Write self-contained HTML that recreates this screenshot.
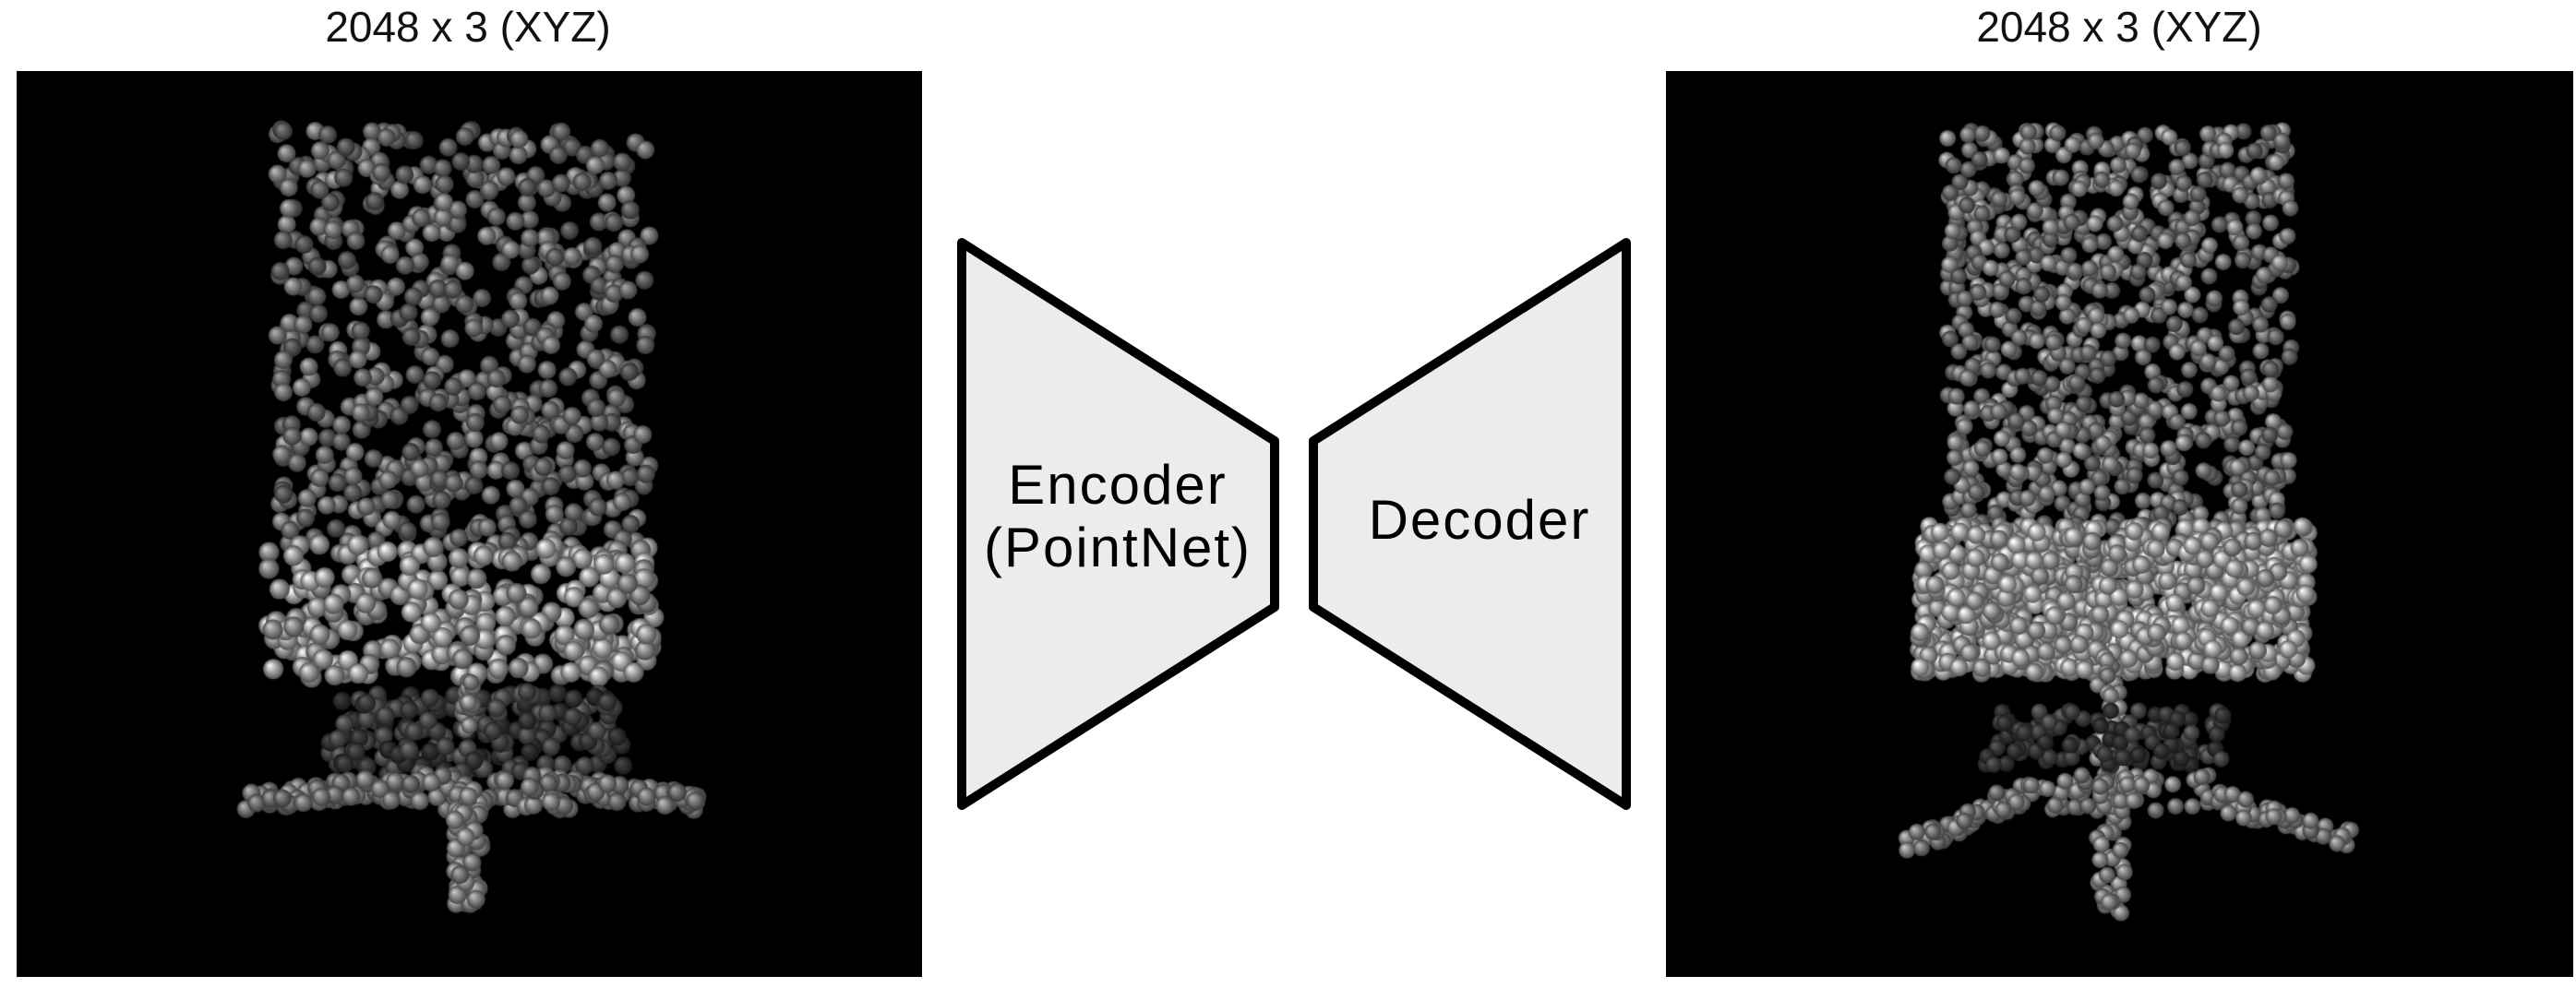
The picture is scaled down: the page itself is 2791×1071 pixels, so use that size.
<!DOCTYPE html>
<html><head><meta charset="utf-8"><style>
html,body{margin:0;padding:0;background:#fff;}
#w{position:relative;width:2791px;height:1071px;overflow:hidden;background:#fff;font-family:"Liberation Sans",sans-serif;}
.t{position:absolute;top:2px;font-size:46px;color:#111;width:700px;text-align:center;}
canvas{position:absolute;top:77px;}
</style></head><body><div id="w">
<div class="t" style="left:157px">2048 x 3 (XYZ)</div>
<div class="t" style="left:1946px">2048 x 3 (XYZ)</div>
<canvas id="c1" width="981" height="982" style="left:18px"></canvas>
<canvas id="c2" width="983" height="982" style="left:1805px"></canvas>
<svg width="2791" height="1071" style="position:absolute;left:0;top:0">
<polygon points="1042,263 1381,478 1381,658 1042,873" fill="#ececee" stroke="#000" stroke-width="10" stroke-linejoin="round"/>
<polygon points="1762,263 1423,478 1423,658 1762,873" fill="#ececee" stroke="#000" stroke-width="10" stroke-linejoin="round"/>
<text x="1211" y="546" font-size="60" letter-spacing="2" text-anchor="middle" font-family="Liberation Sans, sans-serif">Encoder</text>
<text x="1211" y="614" font-size="60" letter-spacing="2" text-anchor="middle" font-family="Liberation Sans, sans-serif">(PointNet)</text>
<text x="1603" y="584" font-size="60" letter-spacing="2" text-anchor="middle" font-family="Liberation Sans, sans-serif">Decoder</text>
</svg>
</div>
<script>
var s=12345;function r(){s=(s*1103515245+12345)%2147483648;return s/2147483648;}
function dot(c,x,y,R,b){var g=c.createRadialGradient(x-R*.35,y-R*.35,R*.1,x,y,R);g.addColorStop(0,'rgb('+b+','+b+','+b+')');var d=Math.round(b*.35);g.addColorStop(1,'rgb('+d+','+d+','+d+')');c.fillStyle=g;c.beginPath();c.arc(x,y,R,0,6.283);c.fill();}
function box(c,n,x0,x1,y0,y1,R,b0,b1){for(var i=0;i<n;i++){var y=y0+r()*(y1-y0);dot(c,x0+r()*(x1-x0),y,R,Math.round(b0+(b1-b0)*r()));}}
function line(c,n,xa,ya,xb,yb,w,R,b){for(var i=0;i<n;i++){var t=r();dot(c,xa+(xb-xa)*t+(r()-.5)*w,ya+(yb-ya)*t+(r()-.5)*w,R,b+Math.round(r()*40));}}
var c=document.getElementById('c1').getContext('2d');c.fillStyle='#000';c.fillRect(0,0,981,982);
var o=18,t=77;
box(c,650,300-o,705-o,140-t,600-t,10,120,190);
box(c,300,290-o,712-o,590-t,735-t,11,190,250);
box(c,180,356-o,676-o,750-t,840-t,10,60,120);
line(c,60,267-o,870-t,420-o,850-t,20,10,150);line(c,60,756-o,870-t,600-o,850-t,20,10,150);
line(c,60,420-o,860-t,610-o,860-t,40,10,150);line(c,60,507-o,860-t,507-o,985-t,30,10,170);
line(c,20,507-o,740-t,507-o,790-t,12,9,170);
c=document.getElementById('c2').getContext('2d');c.fillStyle='#000';c.fillRect(0,0,983,982);
o=1805;
box(c,900,2109-o,2483-o,140-t,575-t,9,130,210);
box(c,1000,2079-o,2501-o,570-t,730-t,10,200,255);
line(c,80,2287-o,730-t,2287-o,985-t,30,9,170);
box(c,120,2150-o,2420-o,770-t,830-t,9,60,110);
line(c,60,2056-o,920-t,2200-o,860-t,20,9,160);line(c,60,2545-o,910-t,2380-o,860-t,20,9,160);
line(c,60,2180-o,860-t,2400-o,860-t,40,9,160);
</script>
</body></html>
